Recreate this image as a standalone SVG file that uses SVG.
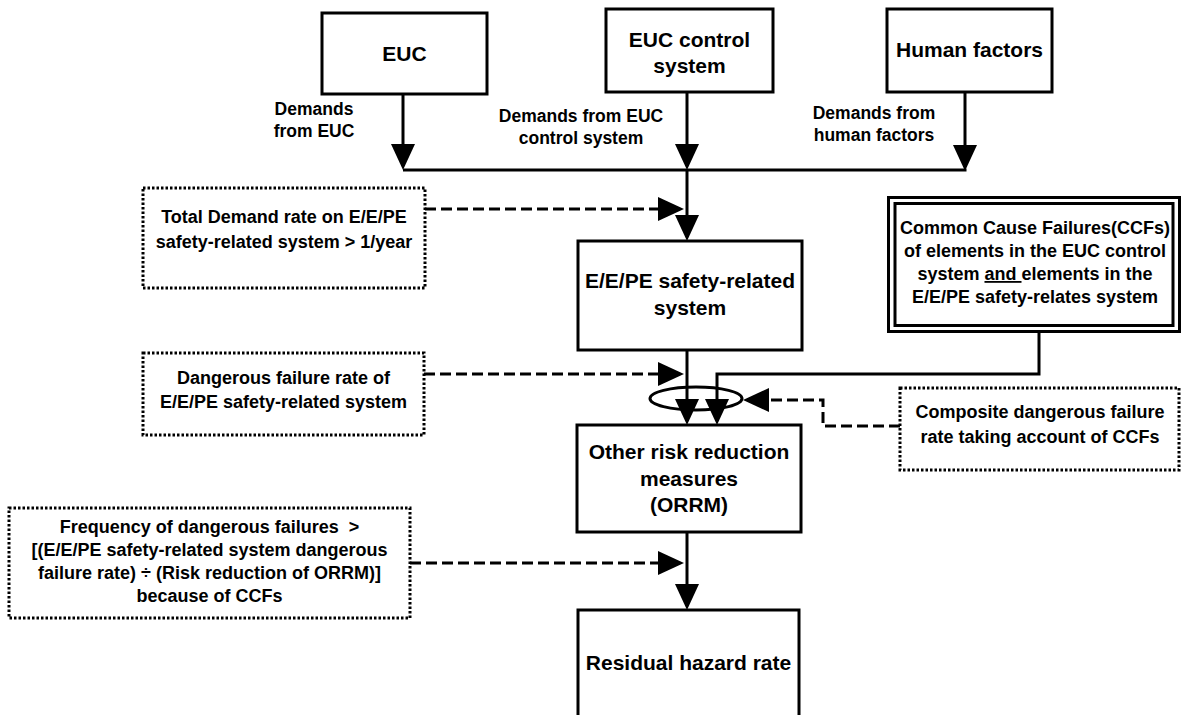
<svg xmlns="http://www.w3.org/2000/svg" width="1181" height="715" viewBox="0 0 1181 715">
  <style>
    text { font-family: "Liberation Sans", Arial, Helvetica, sans-serif; font-weight: bold; fill: #000; text-anchor: middle; }
    .big { font-size: 21px; }
    .sm { font-size: 18px; }
    .lbl { font-size: 17.5px; }
    .box { fill: #fff; stroke: #000; stroke-width: 3; }
    .dot { fill: #fff; stroke: #000; stroke-width: 3; stroke-dasharray: 2.5 2; }
    .line { fill: none; stroke: #000; stroke-width: 3; }
    .dash { fill: none; stroke: #000; stroke-width: 3; stroke-dasharray: 11 5; }
  </style>
  <defs>
    <marker id="arrow" markerUnits="userSpaceOnUse" viewBox="0 0 26 24" markerWidth="26" markerHeight="24" refX="22" refY="12" orient="auto">
      <path d="M0,0 L26,12 L0,24 z" fill="#000"/>
    </marker>
  </defs>
  <rect width="1181" height="715" fill="#fff"/>

  <!-- connectors -->
  <g id="connectors">
    <path class="line" d="M403,94 V166" marker-end="url(#arrow)"/>
    <path class="line" d="M687,92 V166" marker-end="url(#arrow)"/>
    <path class="line" d="M965,92 V167" marker-end="url(#arrow)"/>
    <path class="line" d="M403,170 H966.5"/>
    <path class="line" d="M687,170 V237" marker-end="url(#arrow)"/>
    <path class="dash" d="M425,209 H680" marker-end="url(#arrow)"/>
    <path class="line" d="M687,350 V421" marker-end="url(#arrow)"/>
    <path class="line" d="M1039,331 V374 H717 V421" marker-end="url(#arrow)"/>
    <path class="dash" d="M424,374 H680" marker-end="url(#arrow)"/>
    <ellipse class="line" cx="696" cy="398.5" rx="46" ry="11.5"/>
    <path class="dash" d="M900,426 H823 V400 H747" marker-end="url(#arrow)"/>
    <path class="line" d="M687,532 V606" marker-end="url(#arrow)"/>
    <path class="dash" d="M410,563 H680" marker-end="url(#arrow)"/>
  </g>

  <!-- demand labels -->
  <g id="labels">
    <text class="lbl" x="314" y="115">Demands</text>
    <text class="lbl" x="314" y="137">from EUC</text>
    <text class="lbl" x="581" y="122">Demands from EUC</text>
    <text class="lbl" x="581" y="144">control system</text>
    <text class="lbl" x="874" y="119">Demands from</text>
    <text class="lbl" x="874" y="141">human factors</text>
  </g>

  <g id="euc">
    <rect class="box" x="322" y="13" width="165" height="81"/>
    <text class="big" x="404.5" y="61">EUC</text>
  </g>

  <g id="euc-control">
    <rect class="box" x="606" y="9" width="167" height="83"/>
    <text class="big" x="689.5" y="47">EUC control</text>
    <text class="big" x="689.5" y="73">system</text>
  </g>

  <g id="human-factors">
    <rect class="box" x="887" y="9" width="165" height="83"/>
    <text class="big" x="969.5" y="57">Human factors</text>
  </g>

  <g id="eepe-system">
    <rect class="box" x="578" y="241" width="224" height="109"/>
    <text class="big" x="690" y="288">E/E/PE safety-related</text>
    <text class="big" x="690" y="315">system</text>
  </g>

  <g id="orrm">
    <rect class="box" x="577" y="425" width="224" height="107"/>
    <text class="big" x="689" y="459">Other risk reduction</text>
    <text class="big" x="689" y="485.5">measures</text>
    <text class="big" x="689" y="512">(ORRM)</text>
  </g>

  <g id="residual">
    <rect class="box" x="578" y="610" width="221" height="120"/>
    <text class="big" x="688.5" y="670">Residual hazard rate</text>
  </g>

  <g id="ccf">
    <rect class="box" x="888.5" y="197.5" width="291" height="134"/>
    <rect class="box" x="895" y="203.5" width="278" height="122"/>
    <text class="sm" x="1035" y="234">Common Cause Failures(CCFs)</text>
    <text class="sm" x="1035" y="257">of elements in the EUC control</text>
    <text class="sm" x="1035" y="280">system <tspan text-decoration="underline">and </tspan>elements in the</text>
    <text class="sm" x="1035" y="303">E/E/PE safety-relates system</text>
  </g>

  <g id="total-demand">
    <rect class="dot" x="143" y="188" width="282" height="100"/>
    <text class="sm" x="284" y="223">Total Demand rate on E/E/PE</text>
    <text class="sm" x="284" y="248">safety-related system &gt; 1/year</text>
  </g>

  <g id="dangerous-failure">
    <rect class="dot" x="143" y="353" width="281" height="82"/>
    <text class="sm" x="283.5" y="384">Dangerous failure rate of</text>
    <text class="sm" x="283.5" y="408">E/E/PE safety-related system</text>
  </g>

  <g id="composite">
    <rect class="dot" x="900" y="388" width="279" height="82"/>
    <text class="sm" x="1040" y="418">Composite dangerous failure</text>
    <text class="sm" x="1040" y="443">rate taking account of CCFs</text>
  </g>

  <g id="frequency">
    <rect class="dot" x="9" y="508" width="401" height="110"/>
    <text class="sm" x="209.5" y="533" style="white-space:pre">Frequency of dangerous failures  &gt;</text>
    <text class="sm" x="209.5" y="556">[(E/E/PE safety-related system dangerous</text>
    <text class="sm" x="209.5" y="579">failure rate) ÷ (Risk reduction of ORRM)]</text>
    <text class="sm" x="209.5" y="602">because of CCFs</text>
  </g>
</svg>
